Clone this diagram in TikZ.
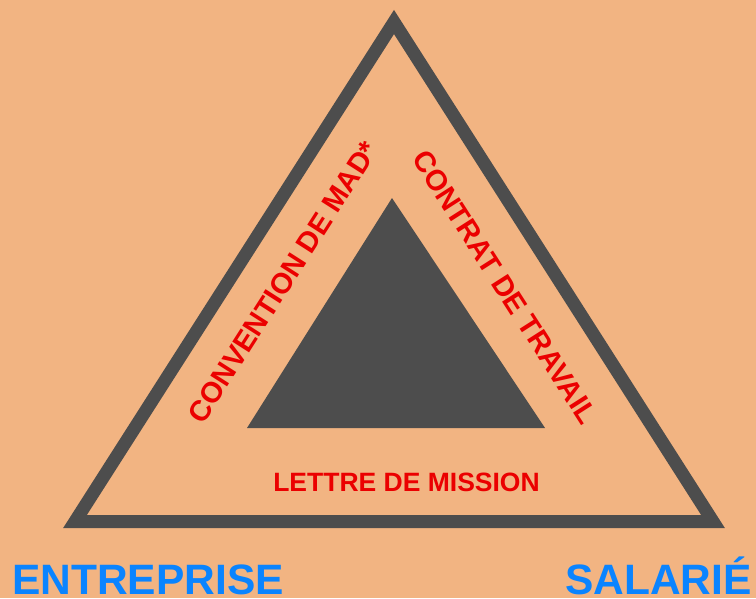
\documentclass[tikz,border=0pt]{standalone}
\usepackage{fontspec}
\setmainfont{Liberation Sans}
\definecolor{bgpeach}{RGB}{242,180,130}
\definecolor{darkgray}{RGB}{77,77,77}
\definecolor{labelred}{RGB}{235,0,0}
\definecolor{labelblue}{RGB}{10,132,255}
\begin{document}
\begin{tikzpicture}[x=1pt,y=-1pt,
  lbl/.style={text=labelred,font=\fontsize{26.5}{26.5}\selectfont\bfseries,inner sep=0pt},
  sidelbl/.style={text=labelred,font=\fontsize{29}{29}\selectfont\bfseries,inner sep=0pt},
  party/.style={text=labelblue,font=\fontsize{42.5}{42.5}\selectfont\bfseries,inner sep=0pt}]
\fill[bgpeach] (0,0) rectangle (756,598);
\useasboundingbox (0,0) rectangle (756,598);
% outer triangle
\coordinate (top) at (394,22);
\coordinate (bl) at (75,521.5);
\coordinate (br) at (713,521.5);
\draw[darkgray,line width=13pt,line join=miter] (top) -- (bl) -- (br) -- cycle;
% inner triangle
\coordinate (itop) at (392,198);
\coordinate (ibl) at (247,428);
\coordinate (ibr) at (545,428);
\fill[darkgray] (itop) -- (ibl) -- (ibr) -- cycle;
% labels
\node[sidelbl,rotate=57.4] (mad) at (283,282) {CONVENTION DE MAD*};
\node[sidelbl,rotate=-57.4] (contrat) at (505,287) {CONTRAT DE TRAVAIL};
\node[lbl] (lettre) at (406.5,482.5) {LETTRE DE MISSION};
\node[party,anchor=base west] (ent) at (12,594.5) {ENTREPRISE};
\node[party,anchor=base east] (sal) at (752,594.5) {SALARIÉ};
\end{tikzpicture}
\end{document}
